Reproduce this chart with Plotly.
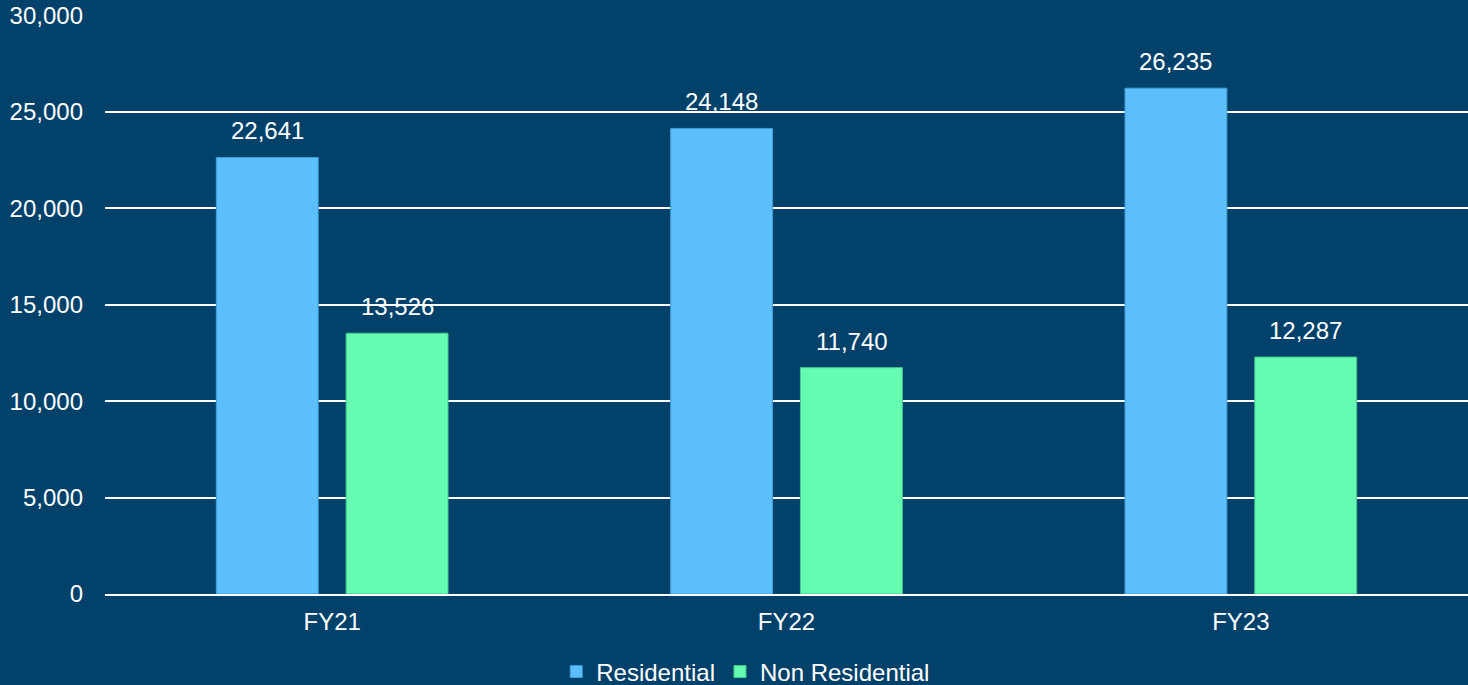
import plotly.graph_objects as go

categories = ["FY21", "FY22", "FY23"]
residential = [22641, 24148, 26235]
non_residential = [13526, 11740, 12287]
y_ticks = [0, 5000, 10000, 15000, 20000, 25000, 30000]

BG = "#01416A"
BLUE = "#5EBFFF"
GREEN = "#65FCB1"
FONT = "Liberation Sans, Arial, sans-serif"
FS = 24

fig = go.Figure()
fig.add_trace(go.Bar(name="Residential", x=categories, y=residential,
                     marker=dict(color=BLUE, line=dict(color="#3E9ED8", width=1))))
fig.add_trace(go.Bar(name="Non Residential", x=categories, y=non_residential,
                     marker=dict(color=GREEN, line=dict(color="#45C98F", width=1))))

# data labels above bars
for series, off in [(residential, -0.5), (non_residential, 0.5)]:
    for j, v in enumerate(series):
        fig.add_annotation(x=j, y=v, xref="x", yref="y", text=f"{v:,}",
                           showarrow=False, yanchor="bottom", yshift=11,
                           xshift=off * 130,
                           font=dict(family=FONT, size=FS, color="white"))

fig.update_layout(
    width=1468, height=685,
    paper_bgcolor=BG, plot_bgcolor=BG,
    margin=dict(l=105, r=0, t=15, b=91, autoexpand=False),
    barmode="group", bargap=0.4286, bargroupgap=0.215,
    font=dict(family=FONT, size=FS, color="white"),
    showlegend=True,
    legend=dict(orientation="h", x=0.508, xanchor="center", xref="container",
                y=0.019, yanchor="middle", yref="container",
                font=dict(size=FS, color="white"),
                itemwidth=30, tracegroupgap=0, bgcolor="rgba(0,0,0,0)"),
)
fig.update_xaxes(type="category", showgrid=False, showline=True, linecolor="white",
                 linewidth=2, ticks="", ticklabelstandoff=5,
                 tickfont=dict(size=FS, color="white"))
fig.update_yaxes(range=[0, 30030], tickvals=y_ticks, tickformat=",",
                 showgrid=True, gridcolor="white", gridwidth=2,
                 zeroline=False, showline=False, ticks="", ticklabelstandoff=21,
                 tickfont=dict(size=FS, color="white"))

fig.write_html("out.html", config={"displayModeBar": False},
               post_script="document.body.style.margin='0';document.body.style.background='" + BG + "';")
